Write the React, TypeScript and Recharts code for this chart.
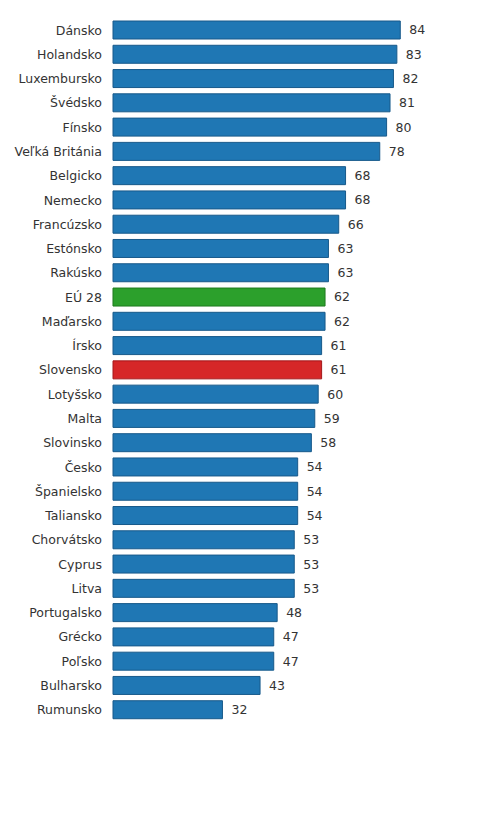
import { BarChart, Bar, XAxis, YAxis, Cell, LabelList } from 'recharts';

const countries = [
  'Dánsko', 'Holandsko', 'Luxembursko', 'Švédsko', 'Fínsko', 'Veľká Británia',
  'Belgicko', 'Nemecko', 'Francúzsko', 'Estónsko', 'Rakúsko', 'EÚ 28',
  'Maďarsko', 'Írsko', 'Slovensko', 'Lotyšsko', 'Malta', 'Slovinsko',
  'Česko', 'Španielsko', 'Taliansko', 'Chorvátsko', 'Cyprus', 'Litva',
  'Portugalsko', 'Grécko', 'Poľsko', 'Bulharsko', 'Rumunsko',
];

const scores = [
  84, 83, 82, 81, 80, 78,
  68, 68, 66, 63, 63, 62,
  62, 61, 61, 60, 59, 58,
  54, 54, 54, 53, 53, 53,
  48, 47, 47, 43, 32,
];

const highlight: Record<string, [string, string]> = {
  'EÚ 28': ['#2ca02c', '#1e7a1e'],
  'Slovensko': ['#d62728', '#a3181a'],
};

const chartData = countries.map((name, i) => ({ name, value: scores[i] }));

export default function App() {
  return (
    <BarChart
      width={474}
      height={799}
      data={chartData}
      layout="vertical"
      margin={{ top: 10, right: 27, left: 0, bottom: 85 }}
      barSize={18}
    >
      <XAxis type="number" domain={[0, 100]} hide />
      <YAxis
        type="category"
        dataKey="name"
        width={105}
        axisLine={false}
        tickLine={false}
        tickSize={0}
        tickMargin={11}
        interval={0}
        tick={{ fill: '#333', fontSize: 12.5, fontFamily: 'DejaVu Sans' }}
      />
      <Bar dataKey="value" isAnimationActive={false} strokeWidth={1}>
        {chartData.map((d) => {
          const [fill, stroke] = highlight[d.name] ?? ['#1f77b4', '#17598a'];
          return <Cell key={d.name} fill={fill} stroke={stroke} />;
        })}
        <LabelList
          dataKey="value"
          position="right"
          offset={9}
          fill="#333"
          fontSize={12.5}
          fontFamily="DejaVu Sans"
        />
      </Bar>
    </BarChart>
  );
}
